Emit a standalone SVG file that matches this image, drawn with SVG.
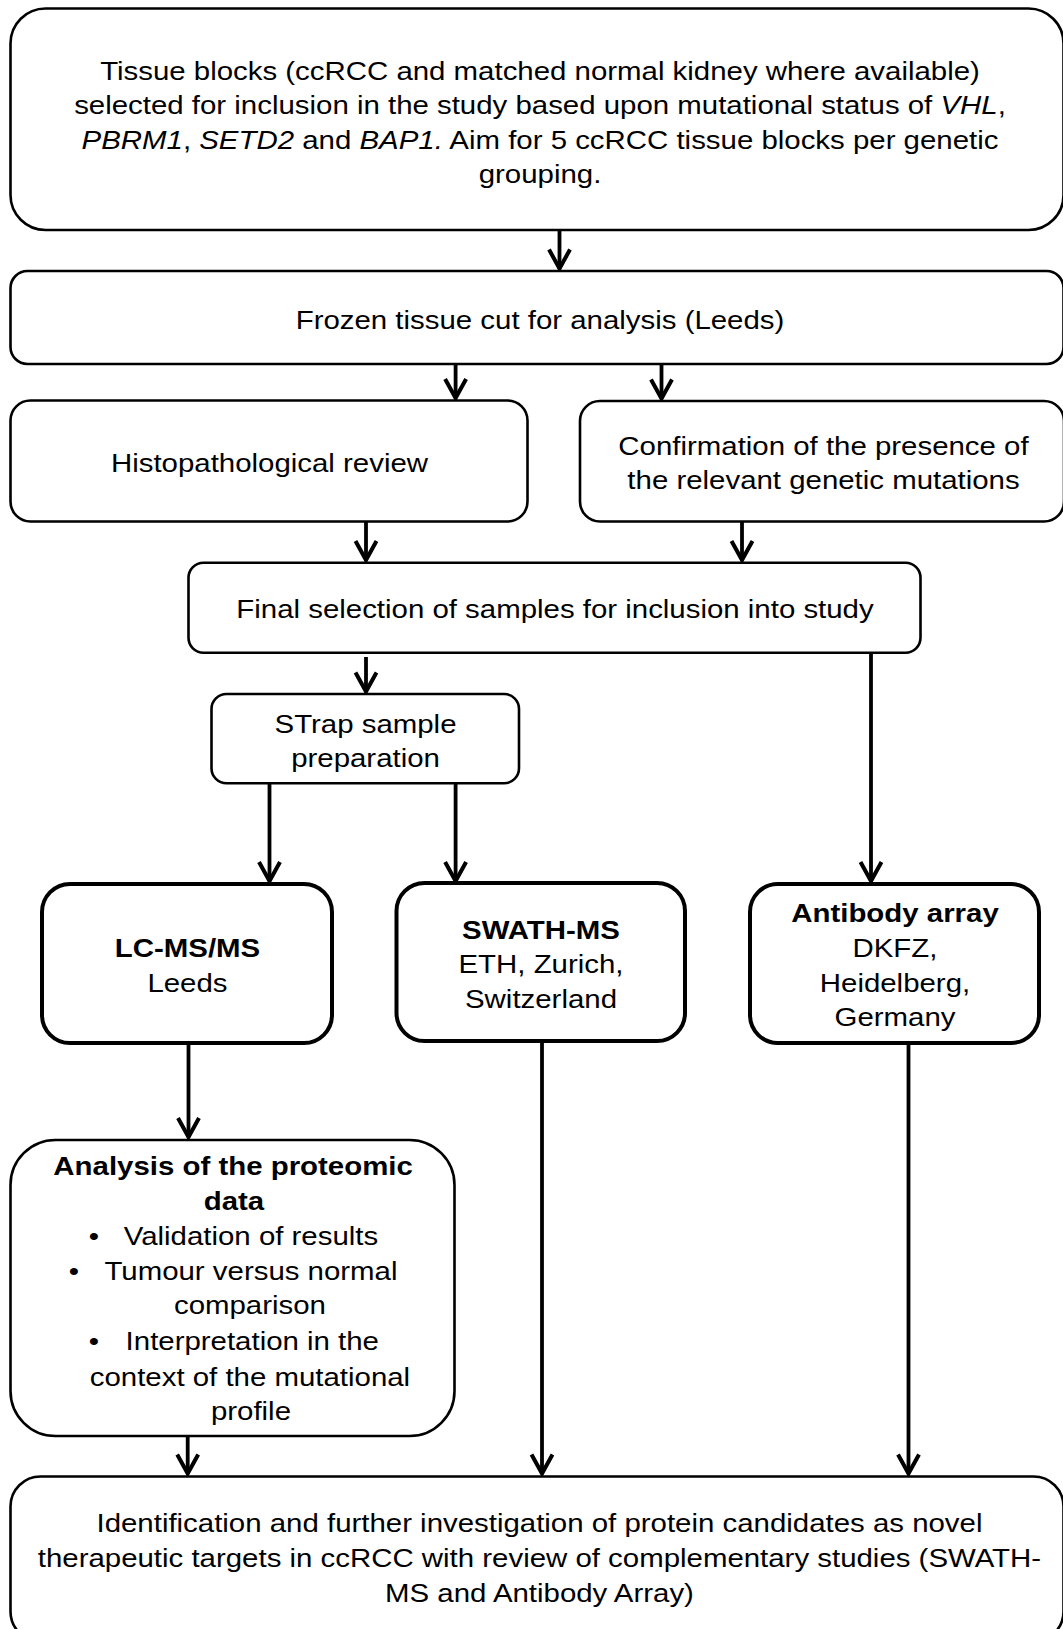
<svg xmlns="http://www.w3.org/2000/svg" width="1063" height="1629" viewBox="0 0 1063 1629">
<style>
.box{fill:#fff;stroke:#000;stroke-width:2.6}
.thick{fill:#fff;stroke:#000;stroke-width:4}
.t{font-family:"Liberation Sans",Arial,sans-serif;font-size:26.5px;fill:#000;text-anchor:middle}
.b{font-weight:bold}
.i{font-style:italic}
.c{fill:none;stroke:#000;stroke-width:3.8}
</style>
<defs>
<marker id="ah" markerUnits="userSpaceOnUse" markerWidth="30" markerHeight="30" refX="0" refY="0" orient="auto" overflow="visible">
<path d="M-19,-10.5 L0,0 L-19,10.5" fill="none" stroke="#000" stroke-width="4" stroke-linejoin="miter"/>
</marker>
</defs>
<rect width="1063" height="1629" fill="#fff"/>
<g id="connectors">
<line class="c" x1="559.5" y1="230" x2="559.5" y2="268.5" marker-end="url(#ah)"/>
<line class="c" x1="455.6" y1="364" x2="455.6" y2="398" marker-end="url(#ah)"/>
<line class="c" x1="661.5" y1="364" x2="661.5" y2="398.5" marker-end="url(#ah)"/>
<line class="c" x1="366" y1="521.5" x2="366" y2="560" marker-end="url(#ah)"/>
<line class="c" x1="742" y1="521.5" x2="742" y2="560" marker-end="url(#ah)"/>
<line class="c" x1="366" y1="657" x2="366" y2="691.5" marker-end="url(#ah)"/>
<line class="c" x1="871" y1="652.7" x2="871" y2="881" marker-end="url(#ah)"/>
<line class="c" x1="269.5" y1="783.3" x2="269.5" y2="881" marker-end="url(#ah)"/>
<line class="c" x1="455.6" y1="783.3" x2="455.6" y2="881" marker-end="url(#ah)"/>
<line class="c" x1="188.5" y1="1043" x2="188.5" y2="1137" marker-end="url(#ah)"/>
<line class="c" x1="542" y1="1041" x2="542" y2="1473.5" marker-end="url(#ah)"/>
<line class="c" x1="908.5" y1="1043" x2="908.5" y2="1473.5" marker-end="url(#ah)"/>
<line class="c" x1="187.7" y1="1436" x2="187.7" y2="1473.5" marker-end="url(#ah)"/>
</g>
<g id="n1">
<rect class="box" x="10.5" y="8.5" width="1053" height="221.5" rx="35"/>
<text class="t" transform="scale(1.11,1)" x="486.5" y="80">Tissue blocks (ccRCC and matched normal kidney where available)</text>
<text class="t" transform="scale(1.11,1)" x="486.5" y="114.3">selected for inclusion in the study based upon mutational status of <tspan class="i">VHL</tspan>,</text>
<text class="t" transform="scale(1.11,1)" x="486.5" y="148.6"><tspan class="i">PBRM1</tspan>, <tspan class="i">SETD2</tspan> and <tspan class="i">BAP1.</tspan> Aim for 5 ccRCC tissue blocks per genetic</text>
<text class="t" transform="scale(1.11,1)" x="486.5" y="183">grouping.</text>
</g>
<g id="n2">
<rect class="box" x="10.5" y="271" width="1053" height="93" rx="17"/>
<text class="t" transform="scale(1.11,1)" x="486.5" y="329">Frozen tissue cut for analysis (Leeds)</text>
</g>
<g id="n3">
<rect class="box" x="10.5" y="400.5" width="517" height="121" rx="20"/>
<text class="t" transform="scale(1.11,1)" x="242.8" y="472">Histopathological review</text>
</g>
<g id="n4">
<rect class="box" x="580" y="401" width="484" height="120.5" rx="20"/>
<text class="t" transform="scale(1.11,1)" x="741.9" y="455">Confirmation of the presence of</text>
<text class="t" transform="scale(1.11,1)" x="741.9" y="488.6">the relevant genetic mutations</text>
</g>
<g id="n5">
<rect class="box" x="188.5" y="562.7" width="732" height="90" rx="15"/>
<text class="t" transform="scale(1.11,1)" x="500" y="618">Final selection of samples for inclusion into study</text>
</g>
<g id="n6">
<rect class="box" x="211.5" y="694" width="307.5" height="89.3" rx="15"/>
<text class="t" transform="scale(1.11,1)" x="329.3" y="732.7">STrap sample</text>
<text class="t" transform="scale(1.11,1)" x="329.3" y="766.7">preparation</text>
</g>
<g id="n7">
<rect class="thick" x="42" y="884" width="290" height="159" rx="28"/>
<text class="t b" transform="scale(1.11,1)" x="168.9" y="957">LC-MS/MS</text>
<text class="t" transform="scale(1.11,1)" x="168.9" y="991.7">Leeds</text>
</g>
<g id="n8">
<rect class="thick" x="396.5" y="883" width="288.5" height="158" rx="28"/>
<text class="t b" transform="scale(1.11,1)" x="487.4" y="939.3">SWATH-MS</text>
<text class="t" transform="scale(1.11,1)" x="487.4" y="973.5">ETH, Zurich,</text>
<text class="t" transform="scale(1.11,1)" x="487.4" y="1008">Switzerland</text>
</g>
<g id="n9">
<rect class="thick" x="750" y="884" width="289" height="159" rx="28"/>
<text class="t b" transform="scale(1.11,1)" x="806.3" y="921.7">Antibody array</text>
<text class="t" transform="scale(1.11,1)" x="806.3" y="956.7">DKFZ,</text>
<text class="t" transform="scale(1.11,1)" x="806.3" y="991.7">Heidelberg,</text>
<text class="t" transform="scale(1.11,1)" x="806.3" y="1025.7">Germany</text>
</g>
<g id="n10">
<rect class="box" x="10.5" y="1140" width="444" height="296" rx="45"/>
<text class="t b" transform="scale(1.11,1)" x="210" y="1175">Analysis of the proteomic</text>
<text class="t b" transform="scale(1.11,1)" x="210.8" y="1210">data</text>
<text class="t" transform="scale(1.11,1)" x="84.7" y="1245">•</text>
<text class="t" transform="scale(1.11,1)" x="226.1" y="1245">Validation of results</text>
<text class="t" transform="scale(1.11,1)" x="66.7" y="1280">•</text>
<text class="t" transform="scale(1.11,1)" x="226.1" y="1280">Tumour versus normal</text>
<text class="t" transform="scale(1.11,1)" x="225.2" y="1314.3">comparison</text>
<text class="t" transform="scale(1.11,1)" x="84.7" y="1350">•</text>
<text class="t" transform="scale(1.11,1)" x="227.3" y="1350">Interpretation in the</text>
<text class="t" transform="scale(1.11,1)" x="225.2" y="1386">context of the mutational</text>
<text class="t" transform="scale(1.11,1)" x="226.1" y="1420">profile</text>
</g>
<g id="n11">
<rect class="box" x="10.5" y="1476.5" width="1053" height="165" rx="30"/>
<text class="t" transform="scale(1.11,1)" x="486" y="1531.7">Identification and further investigation of protein candidates as novel</text>
<text class="t" transform="scale(1.11,1)" x="486" y="1566.7">therapeutic targets in ccRCC with review of complementary studies (SWATH-</text>
<text class="t" transform="scale(1.11,1)" x="486" y="1601.7">MS and Antibody Array)</text>
</g>
</svg>
